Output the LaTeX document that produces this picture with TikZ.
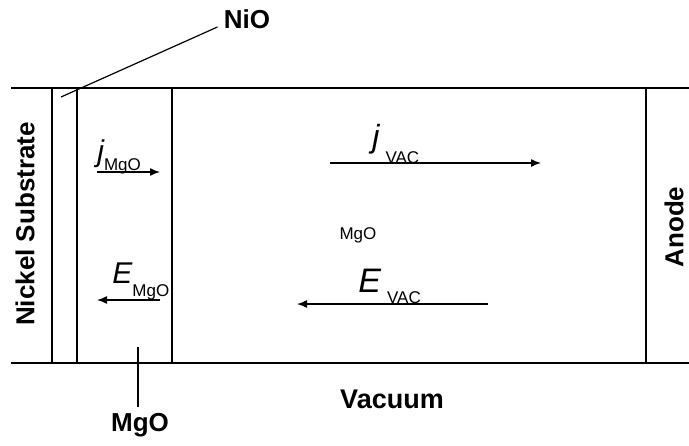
\documentclass[tikz,border=0pt]{standalone}
\usepackage{fontspec}
\setmainfont{Liberation Sans}
\usetikzlibrary{arrows.meta,positioning}
\newcommand{\subtxt}{\fontsize{8.5}{9}\selectfont\upshape}

\begin{document}
\begin{tikzpicture}[
        x=0.5pt, y=-0.5pt,
        wall/.style={line width=0.8pt},
        lbl/.style={font=\fontsize{13}{15}\selectfont\bfseries, inner sep=0pt},
        side/.style={lbl, rotate=90},
        sym/.style={font=\fontsize{15}{17}\selectfont\itshape, inner sep=0pt, anchor=base west},
        flux/.style={-{Latex[length=5pt,width=4pt]}, line width=0.7pt},
        leader/.style={line width=0.6pt}
    ]

    \useasboundingbox (0,0) rectangle (689,445);

    % layer boundaries
    \coordinate (topL) at (11,88);
    \coordinate (topR) at (689,88);
    \coordinate (botL) at (11,363);
    \coordinate (botR) at (689,363);
    \draw[wall] (topL) -- (topR);
    \draw[wall] (botL) -- (botR);
    \foreach \x/\n in {52/ni,77/nio,172/mgo,646/anode}
        \draw[wall] (\x,88) coordinate (\n top) -- (\x,363) coordinate (\n bot);

    % labels
    \node[side] (substrate) at (25,224) {Nickel Substrate};
    \node[side] (anode) at (674,227) {Anode};
    \node[lbl] (nioLbl) at (247,19) {NiO};
    \node[lbl] (mgoLbl) at (140,425) {MgO};
    \node[lbl, font=\fontsize{13.5}{15}\selectfont\bfseries] (vacuum) at (392,399) {Vacuum};
    \node[font=\fontsize{8.5}{9}\selectfont, inner sep=0pt] (mgoMid) at (358,235) {MgO};

    % leader lines
    \coordinate (nioTip) at (61,97);
    \coordinate (mgoTip) at (138,347);
    \draw[leader] ([xshift=-3pt,yshift=-4pt]nioLbl.west) -- (nioTip);
    \draw[leader] (mgoTip) -- ([yshift=3pt]mgoTip |- mgoLbl.north);

    % current and field in the oxide
    \node[sym] (jMgO) at (97,161) {j\raisebox{-4.5pt}{\subtxt MgO}};
    \node[sym] (EMgO) at (112,283) {E\raisebox{-6.5pt}{\subtxt MgO}};
    \coordinate (jMgOa) at (97,172);
    \coordinate (jMgOb) at (160,172);
    \coordinate (EMgOa) at (160,300);
    \coordinate (EMgOb) at (97,300);
    \draw[flux] (jMgOa) -- (jMgOb);
    \draw[flux] (EMgOa) -- (EMgOb);

    % current and field in the vacuum
    \node[sym, font=\fontsize{16}{18}\selectfont\itshape] (jVAC) at (372,147) {j\hspace{3pt}\raisebox{-8pt}{\subtxt VAC}};
    \node[sym, font=\fontsize{17}{19}\selectfont\itshape] (EVAC) at (358,292) {E\hspace{3pt}\raisebox{-5.5pt}{\subtxt VAC}};
    \coordinate (jVACa) at (330,163);
    \coordinate (jVACb) at (541,163);
    \coordinate (EVACa) at (488,304);
    \coordinate (EVACb) at (297,304);
    \draw[flux] (jVACa) -- (jVACb);
    \draw[flux] (EVACa) -- (EVACb);

\end{tikzpicture}
\end{document}
